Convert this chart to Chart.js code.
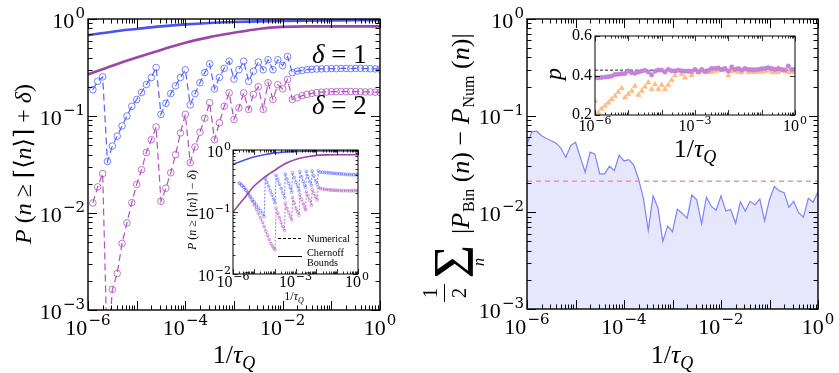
<!DOCTYPE html>
<html><head><meta charset="utf-8">
<script src="https://cdn.jsdelivr.net/npm/chart.js@4.4.1/dist/chart.umd.min.js"></script>
<style>
html,body{margin:0;padding:0;background:#fff;}
#wrap{position:relative;width:839px;height:373px;overflow:hidden;}
#wrap canvas{position:absolute;left:0;top:0;}
</style></head>
<body><div id="wrap">
<canvas id="c1" width="839" height="373"></canvas>
<canvas id="c2" width="839" height="373"></canvas>
<canvas id="c3" width="839" height="373"></canvas>
<canvas id="c4" width="839" height="373"></canvas>
</div>
<script>
// ---------------- DATA ----------------
const X_GRID = [
 1e-6,1.26e-6,1.58e-6,2e-6,2.51e-6,3.16e-6,3.98e-6,5.01e-6,6.31e-6,7.94e-6,
 1e-5,1.26e-5,1.58e-5,2e-5,2.51e-5,3.16e-5,3.98e-5,5.01e-5,6.31e-5,7.94e-5,
 1e-4,1.26e-4,1.58e-4,2e-4,2.51e-4,3.16e-4,3.98e-4,5.01e-4,6.31e-4,7.94e-4,
 1e-3,1.26e-3,1.58e-3,2e-3,2.51e-3,3.16e-3,3.98e-3,5.01e-3,6.31e-3,7.94e-3,
 1e-2,1.26e-2,1.58e-2,2e-2,2.51e-2,3.16e-2,3.98e-2,5.01e-2,6.31e-2,7.94e-2,
 0.1,0.126,0.158,0.2,0.251,0.316,0.398,0.501,0.631,0.794,
 1];

// left panel: numerical P(n >= ceil(<n>) + delta)
const NUM_DELTA1 = [
 null,0.187,0.228,0.253,0.034,0.049,0.062,0.079,0.100,0.126,
 0.148,0.175,0.211,0.249,0.316,0.104,0.135,0.17,0.205,0.25,
 0.30,0.13,0.17,0.22,0.28,0.345,0.19,0.25,0.31,0.367,
 0.24,0.30,0.367,0.228,0.29,0.36,0.30,0.38,0.30,0.38,
 0.33,0.41,0.28,0.29,0.295,0.30,0.303,0.305,0.306,0.307,
 0.308,0.308,0.309,0.309,0.308,0.309,0.31,0.308,0.307,0.306,
 0.304];
const NUM_DELTA2 = [
 null,0.0127,0.0186,0.0255,0.0003,0.00163,0.00238,0.00485,0.0079,0.0128,
 0.0197,0.028,0.042,0.057,0.077,0.0132,0.018,0.026,0.040,0.067,
 0.104,0.033,0.048,0.068,0.095,0.137,0.057,0.085,0.126,0.173,
 0.092,0.121,0.173,0.117,0.167,0.20,0.117,0.22,0.148,0.21,
 0.19,0.238,0.148,0.154,0.162,0.167,0.171,0.174,0.176,0.177,
 0.178,0.178,0.179,0.178,0.179,0.178,0.178,0.177,0.177,0.176,
 0.175];

// Chernoff bounds (solid curves)
const CURVE_X = [1e-6,3.16e-6,1e-5,3.16e-5,1e-4,3.16e-4,1e-3,3.16e-3,1e-2,3.16e-2,0.1,0.316,1];
const CHERNOFF_D1 = [0.68,0.74,0.79,0.84,0.88,0.91,0.93,0.945,0.957,0.963,0.967,0.97,0.97];
const CHERNOFF_D2 = [0.268,0.33,0.40,0.48,0.57,0.65,0.72,0.79,0.83,0.84,0.84,0.84,0.84];
const INSET_CHERNOFF_D1 = [0.59,0.68,0.77,0.84,0.90,0.93,0.95,0.96,0.965,0.965,0.965,0.965,0.965];
const INSET_CHERNOFF_D2 = [0.10,0.16,0.26,0.36,0.47,0.60,0.70,0.77,0.82,0.835,0.84,0.84,0.84];

// left inset: numerical P(n >= ceil(<n>) - delta), x given as log10(1/tau_Q)
const INSET_LOGX_D1 = [-5.68,-5.58,-5.48,-5.38,-5.28,-5.18,-5.08,-4.98,-4.88,-4.78,-4.68,-4.58,-4.5,
 -4.45,-4.37,-4.29,-4.21,-4.13,-4.05,-3.98,
 -3.93,-3.85,-3.77,-3.69,-3.61,-3.53,
 -3.49,-3.41,-3.33,-3.25,-3.18,
 -3.14,-3.06,-2.98,-2.9,-2.83,
 -2.79,-2.71,-2.63,-2.56,-2.51,
 -2.48,-2.4,-2.32,-2.24,
 -2.2,-2.12,-2.04,-1.96,
 -1.9,-1.8,-1.7,-1.6,-1.5,-1.4,-1.3,-1.2,-1.1,-1.0,-0.9,-0.8,-0.7,-0.6,-0.5,-0.4,-0.3,-0.2,-0.1,0];
const INSET_NUM_D1 = [0.29,0.27,0.25,0.225,0.20,0.18,0.16,0.145,0.13,0.115,0.105,0.094,0.084,
 0.35,0.30,0.26,0.22,0.19,0.16,0.14,
 0.39,0.33,0.28,0.24,0.20,0.17,
 0.41,0.34,0.29,0.245,0.21,
 0.43,0.36,0.30,0.26,0.22,
 0.45,0.37,0.31,0.27,0.25,
 0.45,0.37,0.31,0.27,
 0.46,0.38,0.32,0.28,
 0.46,0.44,0.44,0.435,0.43,0.43,0.425,0.42,0.42,0.415,0.415,0.41,0.41,0.405,0.405,0.40,0.40,0.40,0.40,0.40];
const INSET_LOGX_D2 = [-5.68,-5.58,-5.48,-5.38,-5.28,-5.18,-5.08,-4.98,-4.88,-4.78,-4.68,-4.58,-4.5,-4.42,-4.34,-4.26,-4.18,-4.1,-4.04,-3.98,
 -3.93,-3.85,-3.77,-3.69,-3.61,-3.53,
 -3.49,-3.41,-3.33,-3.25,-3.18,
 -3.14,-3.06,-2.98,-2.9,-2.83,
 -2.79,-2.71,-2.63,-2.56,-2.51,
 -2.48,-2.4,-2.32,-2.24,
 -2.2,-2.12,-2.04,-1.96,
 -1.9,-1.8,-1.7,-1.6,-1.5,-1.4,-1.3,-1.2,-1.1,-1.0,-0.9,-0.8,-0.7,-0.6,-0.5,-0.4,-0.3,-0.2,-0.1,0];
const INSET_NUM_D2 = [0.29,0.27,0.25,0.225,0.20,0.175,0.15,0.13,0.11,0.095,0.08,0.068,0.058,0.049,0.042,0.036,0.031,0.028,0.026,0.0245,
 0.115,0.095,0.08,0.068,0.058,0.051,
 0.138,0.115,0.098,0.085,0.075,
 0.17,0.14,0.115,0.10,0.089,
 0.19,0.16,0.135,0.118,0.108,
 0.21,0.18,0.155,0.13,
 0.23,0.20,0.175,0.156,
 0.25,0.24,0.235,0.232,0.23,0.228,0.226,0.225,0.224,0.223,0.222,0.222,0.221,0.221,0.22,0.22,0.22,0.22,0.22,0.22];

// right panel: total variation distance
const TVD = [
 0.051,0.068,0.069,0.062,0.058,0.055,0.052,0.046,0.037,0.049,
 0.053,0.037,0.026,0.042,0.040,0.025,0.025,0.030,0.027,0.039,
 0.034,0.035,0.031,0.022,0.014,0.0065,0.0148,0.0111,0.0050,0.0072,
 0.0063,0.0108,0.0098,0.0087,0.0151,0.0135,0.0076,0.0144,0.0115,0.0105,
 0.0148,0.0103,0.0107,0.0077,0.0129,0.0103,0.013,0.012,0.0137,0.0082,
 0.0136,0.0185,0.0167,0.016,0.0113,0.013,0.0099,0.0089,0.0140,0.0127,
 0.0164];
const TVD_REF_LEVEL = 0.021;

// right inset: fitted p
const P_CIRCLES = [
 0.39,0.388,0.39,0.392,0.394,0.397,0.405,0.406,0.409,0.41,
 0.423,0.414,0.411,0.418,0.422,0.426,0.418,0.403,0.422,0.428,
 0.427,0.418,0.431,0.424,0.423,0.426,0.424,0.422,0.421,0.419,
 0.431,0.418,0.431,0.421,0.426,0.436,0.436,0.438,0.431,0.436,
 0.423,0.443,0.431,0.436,0.428,0.436,0.431,0.43,0.43,0.431,
 0.434,0.436,0.44,0.436,0.431,0.436,0.431,0.428,0.448,0.431,
 0.431];
const P_TRIANGLES = [
 0.271,0.212,0.232,0.246,0.262,0.279,0.296,0.316,0.335,0.288,
 0.305,0.321,0.347,0.301,0.321,0.343,0.364,0.33,0.355,0.33,
 0.352,0.33,0.352,0.376,0.40,0.426,0.406,0.389,0.423,0.40,
 0.426,0.418,0.421,0.418,0.418,0.418,0.421,0.426,0.428,0.426,
 0.40,0.421,0.423,0.418,0.416,0.428,0.416,0.418,0.418,0.421,
 0.418,0.423,0.426,0.418,0.416,0.418,0.426,0.421,0.416,0.418,
 0.418];
const P_REF_LEVEL = 0.427;

const X_RANGE = [1e-6, 1];

// ---------------- HELPERS ----------------
const SERIF = '"Liberation Serif","DejaVu Serif",serif';
const EXPF = '"DejaVu Serif","Liberation Serif",serif';
function fnt(size, it, fam) { return (it ? 'italic ' : '') + size + 'px ' + (fam || SERIF); }
const pts = (xs, ys) => xs.map((x, i) => ({x: x, y: ys[i]}));
const ptsLog = (ls, ys) => ls.map((l, i) => ({x: Math.pow(10, l), y: ys[i]}));

function drawPow(ctx, x, y, exp, bs, es, align, rise) {
  ctx.textBaseline = 'middle'; ctx.textAlign = 'left';
  ctx.font = fnt(bs); const w1 = ctx.measureText('10').width;
  const e = exp < 0 ? '\u2212' + (-exp) : String(exp);
  ctx.font = fnt(es, false, EXPF); const w2 = ctx.measureText(e).width;
  const gap = es * 0.08, tot = w1 + gap + w2;
  const x0 = align === 'center' ? x - tot / 2 : (align === 'right' ? x - tot : x);
  ctx.font = fnt(bs); ctx.fillText('10', x0, y);
  ctx.font = fnt(es, false, EXPF); ctx.fillText(e, x0 + w1 + gap, y - rise);
}
function drawRich(ctx, segs, x, y, align) {
  ctx.textBaseline = 'alphabetic'; ctx.textAlign = 'left';
  let tot = 0;
  segs.forEach(s => { ctx.font = fnt(s.s, s.i, s.f); s.w = ctx.measureText(s.t).width; tot += s.w + (s.dx || 0); });
  let cx = align === 'center' ? x - tot / 2 : x;
  segs.forEach(s => { ctx.font = fnt(s.s, s.i, s.f); cx += (s.dx || 0); ctx.fillText(s.t, cx, y + (s.dy || 0)); cx += s.w; });
  return tot;
}
function seg(t, s, i, dy, dx, f) { return {t: t, s: s, i: i, dy: dy, dx: dx, f: f}; }
function fitText(ctx, t, x, y, width, size) {
  ctx.font = fnt(size); const w = ctx.measureText(t).width;
  const s = Math.min(size, size * width / w);
  ctx.font = fnt(s); ctx.fillText(t, x, y);
}

function makeFrame(cfg) {
  return {
    id: 'frame',
    beforeDatasetsDraw(chart) {
      if (!cfg.white) return;
      const a = chart.chartArea, ctx = chart.ctx;
      ctx.save(); ctx.fillStyle = '#fff';
      ctx.fillRect(a.left, a.top, a.right - a.left, a.bottom - a.top); ctx.restore();
    },
    afterDraw(chart) {
      const ctx = chart.ctx, a = chart.chartArea, xs = chart.scales.x, ys = chart.scales.y;
      ctx.save();
      ctx.strokeStyle = '#000'; ctx.fillStyle = '#000'; ctx.lineWidth = cfg.tickW;
      const ln = (x1, y1, x2, y2) => { ctx.beginPath(); ctx.moveTo(x1, y1); ctx.lineTo(x2, y2); ctx.stroke(); };
      for (let e = cfg.xE[0]; e <= cfg.xE[1]; e++) {
        for (let m = 1; m <= 9; m++) {
          if (e === cfg.xE[1] && m > 1) break;
          const p = Math.round(xs.getPixelForValue(m * Math.pow(10, e))) + 0.5;
          const L = m === 1 ? cfg.maj : cfg.min;
          ln(p, a.bottom, p, a.bottom - L); ln(p, a.top, p, a.top + L);
        }
      }
      if (cfg.yE) {
        for (let e = cfg.yE[0]; e <= cfg.yE[1]; e++) {
          for (let m = 1; m <= 9; m++) {
            if (e === cfg.yE[1] && m > 1) break;
            const p = Math.round(ys.getPixelForValue(m * Math.pow(10, e))) + 0.5;
            const L = m === 1 ? cfg.maj : cfg.min;
            ln(a.left, p, a.left + L, p); ln(a.right, p, a.right - L, p);
          }
        }
      } else {
        cfg.yLin.forEach(v => {
          const p = Math.round(ys.getPixelForValue(v)) + 0.5;
          ln(a.left, p, a.left + cfg.maj, p); ln(a.right, p, a.right - cfg.maj, p);
        });
      }
      ctx.lineWidth = cfg.borderW;
      ctx.strokeRect(a.left, a.top, a.right - a.left, a.bottom - a.top);
      const L = cfg.lab;
      cfg.xLab.forEach(e => drawPow(ctx, xs.getPixelForValue(Math.pow(10, e)) + (L.xdx ? L.xdx(e) : 0), a.bottom + L.xdy, e, L.bs, L.es, 'center', L.rise));
      if (cfg.yLab) cfg.yLab.forEach(e => drawPow(ctx, a.left - L.ygap, ys.getPixelForValue(Math.pow(10, e)) + L.ydy, e, L.bs, L.es, 'right', L.rise));
      if (cfg.yLinLab) {
        ctx.font = fnt(L.bs); ctx.textAlign = 'right'; ctx.textBaseline = 'middle';
        cfg.yLinLab.forEach((t, i) => ctx.fillText(t, a.left - L.ygap, ys.getPixelForValue(cfg.yLin[i]) + L.ydy));
      }
      if (cfg.extra) cfg.extra(ctx, chart);
      ctx.restore();
    }
  };
}
function baseOpts(area, ymin, ymax, ylog) {
  return {
    responsive: false, animation: false, events: [],
    layout: {padding: {left: area[0], top: area[1], right: 839 - area[2], bottom: 373 - area[3]}},
    scales: {
      x: {type: 'logarithmic', min: X_RANGE[0], max: X_RANGE[1], display: false},
      y: {type: ylog ? 'logarithmic' : 'linear', min: ymin, max: ymax, display: false}
    },
    plugins: {legend: {display: false}, tooltip: {enabled: false}}
  };
}
const BLUE = '#4b52ee', PURPLE = '#9c47a8', BLUE_D = '#5363ff', PURPLE_D = '#b052c0';
const xLabelSegs = (s) => [seg('1/', s), seg('\u03c4', s, true), seg('Q', Math.round(s * 0.68), true, Math.round(s * 0.24))];

// ---------------- LEFT MAIN ----------------
new Chart(document.getElementById('c1'), {
  type: 'line',
  data: {datasets: [
    {data: pts(CURVE_X, CHERNOFF_D1), borderColor: BLUE, borderWidth: 2.6, pointRadius: 0, cubicInterpolationMode: 'monotone', order: 1},
    {data: pts(CURVE_X, CHERNOFF_D2), borderColor: PURPLE, borderWidth: 2.6, pointRadius: 0, cubicInterpolationMode: 'monotone', order: 2},
    {data: pts(X_GRID, NUM_DELTA1), borderColor: BLUE_D, borderWidth: 1.2, borderDash: [7, 4], pointRadius: 3.3,
     pointBorderWidth: 0.8, pointBorderColor: BLUE_D, pointBackgroundColor: 'rgba(0,0,0,0)', order: 3},
    {data: pts(X_GRID, NUM_DELTA2), borderColor: PURPLE_D, borderWidth: 1.2, borderDash: [7, 4], pointRadius: 3.3,
     pointBorderWidth: 0.8, pointBorderColor: PURPLE_D, pointBackgroundColor: 'rgba(0,0,0,0)', order: 4}
  ]},
  options: baseOpts([88, 19, 380, 310], 1e-3, 1, true),
  plugins: [makeFrame({
    xE: [-6, 0], yE: [-3, 0], maj: 9, min: 4.5, tickW: 1, borderW: 1.4,
    xLab: [-6, -4, -2, 0], yLab: [-3, -2, -1, 0],
    lab: {bs: 22, es: 15, rise: 8, xdy: 19, ygap: 3, ydy: 3},
    extra(ctx) {
      ctx.fillStyle = '#000';
      drawRich(ctx, xLabelSegs(26), 234, 363, 'center');
      ctx.save(); ctx.translate(31, 164); ctx.rotate(-Math.PI / 2);
      drawRich(ctx, [seg('P', 24, true), seg(' (', 24), seg('n', 24, true), seg(' \u2265 \u2308\u27e8', 24),
        seg('n', 24, true), seg('\u27e9\u2309 + ', 24), seg('\u03b4', 24, true), seg(')', 24)], 0, 0, 'center');
      ctx.restore();
      drawRich(ctx, [seg('\u03b4', 27, true), seg(' = 1', 27)], 312, 63, 'left');
      drawRich(ctx, [seg('\u03b4', 27, true), seg(' = 2', 27)], 312, 114, 'left');
    }
  })]
});

// ---------------- LEFT INSET ----------------
new Chart(document.getElementById('c2'), {
  type: 'line',
  data: {datasets: [
    {data: pts(CURVE_X, INSET_CHERNOFF_D1), borderColor: BLUE, borderWidth: 1.6, pointRadius: 0, cubicInterpolationMode: 'monotone', order: 1},
    {data: pts(CURVE_X, INSET_CHERNOFF_D2), borderColor: PURPLE, borderWidth: 1.6, pointRadius: 0, cubicInterpolationMode: 'monotone', order: 2},
    {data: ptsLog(INSET_LOGX_D1, INSET_NUM_D1), borderColor: '#6574ff', borderWidth: 0.9, borderDash: [2, 1.5], pointRadius: 1.4,
     pointBorderWidth: 0.6, pointBorderColor: '#6574ff', pointBackgroundColor: 'rgba(0,0,0,0)', order: 3},
    {data: ptsLog(INSET_LOGX_D2, INSET_NUM_D2), borderColor: '#b565c2', borderWidth: 0.9, borderDash: [2, 1.5], pointRadius: 1.4,
     pointBorderWidth: 0.6, pointBorderColor: '#b565c2', pointBackgroundColor: 'rgba(0,0,0,0)', order: 4}
  ]},
  options: baseOpts([233, 150, 358, 274], 1e-2, 1, true),
  plugins: [makeFrame({
    white: true, xE: [-6, 0], yE: [-2, 0], maj: 5, min: 2.5, tickW: 0.8, borderW: 1,
    xLab: [-6, -3, 0], yLab: [-2, -1, 0],
    lab: {bs: 16, es: 11, rise: 6, xdy: 9, ygap: 2, ydy: 3, xdx: e => (e === 0 ? -1 : 0)},
    extra(ctx) {
      ctx.fillStyle = '#000';
      drawRich(ctx, xLabelSegs(12), 294, 300, 'center');
      ctx.save(); ctx.translate(196, 210); ctx.rotate(-Math.PI / 2);
      drawRich(ctx, [seg('P', 12, true), seg(' (', 12), seg('n', 12, true), seg(' \u2265 \u2308\u27e8', 12),
        seg('n', 12, true), seg('\u27e9\u2309 \u2212 ', 12), seg('\u03b4', 12, true), seg(')', 12)], 0, 0, 'center');
      ctx.restore();
      ctx.strokeStyle = '#000'; ctx.lineWidth = 1;
      ctx.setLineDash([3, 2]); ctx.beginPath(); ctx.moveTo(278, 238.5); ctx.lineTo(302, 238.5); ctx.stroke();
      ctx.setLineDash([]); ctx.beginPath(); ctx.moveTo(278, 256.5); ctx.lineTo(302, 256.5); ctx.stroke();
      ctx.textAlign = 'left'; ctx.textBaseline = 'alphabetic';
      fitText(ctx, 'Numerical', 307, 242, 43, 12);
      fitText(ctx, 'Chernoff', 307, 256, 37, 12);
      fitText(ctx, 'Bounds', 307, 266, 31, 12);
    }
  })]
});

// ---------------- RIGHT MAIN ----------------
new Chart(document.getElementById('c3'), {
  type: 'line',
  data: {datasets: [
    {data: pts(X_GRID, TVD), borderColor: '#7f82fb', borderWidth: 1.2, pointRadius: 0, fill: 'start',
     backgroundColor: 'rgba(122,122,245,0.19)', order: 2},
    {data: pts(X_RANGE, [TVD_REF_LEVEL, TVD_REF_LEVEL]), borderColor: '#f29696', borderWidth: 1.5, borderDash: [5, 4], pointRadius: 0, order: 1}
  ]},
  options: baseOpts([527, 19, 818, 309], 1e-3, 1, true),
  plugins: [makeFrame({
    xE: [-6, 0], yE: [-3, 0], maj: 9, min: 4.5, tickW: 1, borderW: 1.4,
    xLab: [-6, -4, -2, 0], yLab: [-3, -2, -1, 0],
    lab: {bs: 22, es: 15, rise: 8, xdy: 19, ygap: 3, ydy: 3},
    extra(ctx) {
      ctx.fillStyle = '#000';
      drawRich(ctx, xLabelSegs(26), 672, 363, 'center');
      ctx.save(); ctx.translate(469, 309); ctx.rotate(-Math.PI / 2);
      ctx.textAlign = 'center'; ctx.textBaseline = 'alphabetic';
      ctx.font = fnt(21); ctx.fillText('1', 16, -32); ctx.fillText('2', 16, -3);
      ctx.lineWidth = 1; ctx.strokeStyle = '#000';
      ctx.beginPath(); ctx.moveTo(7, -24.5); ctx.lineTo(25, -24.5); ctx.stroke();
      ctx.font = fnt(58); ctx.fillText('\u03a3', 47.5, 4);
      ctx.font = fnt(16, true); ctx.fillText('n', 47, 15);
      drawRich(ctx, [seg('|', 26), seg('P', 26, true), seg('Bin', 16, false, 5, 1), seg(' (', 26), seg('n', 26, true), seg(') \u2212 ', 26),
        seg('P', 26, true), seg('Num', 16, false, 5, 1), seg(' (', 26), seg('n', 26, true), seg(')|', 26)], 75, 0, 'left');
      ctx.restore();
    }
  })]
});

// ---------------- RIGHT INSET ----------------
new Chart(document.getElementById('c4'), {
  type: 'line',
  data: {datasets: [
    {data: pts(X_RANGE, [P_REF_LEVEL, P_REF_LEVEL]), borderColor: '#222', borderWidth: 1, borderDash: [3, 2], pointRadius: 0, order: 3},
    {data: pts(X_GRID, P_TRIANGLES), showLine: false, pointStyle: 'triangle', pointRadius: 3, pointBorderWidth: 0.5,
     pointBackgroundColor: '#ffbd85', pointBorderColor: '#ffb070', order: 2},
    {data: pts(X_GRID, P_CIRCLES), showLine: false, pointStyle: 'circle', pointRadius: 2.2, pointBorderWidth: 0.5,
     pointBackgroundColor: '#c985dc', pointBorderColor: '#bb72d0', order: 1}
  ]},
  options: baseOpts([595, 36, 795, 115], 0.2, 0.6, false),
  plugins: [makeFrame({
    white: true, xE: [-6, 0], yLin: [0.2, 0.4, 0.6], maj: 5, min: 2.5, tickW: 0.8, borderW: 1,
    xLab: [-6, -3, 0], yLinLab: ['0.2', '0.4', '0.6'],
    lab: {bs: 16, es: 11, rise: 6, xdy: 12, ygap: 3, ydy: 0},
    extra(ctx) {
      ctx.fillStyle = '#000';
      drawRich(ctx, xLabelSegs(26), 695, 157, 'center');
      ctx.save(); ctx.translate(561, 74); ctx.rotate(-Math.PI / 2);
      drawRich(ctx, [seg('p', 24, true)], 0, 0, 'center');
      ctx.restore();
    }
  })]
});
</script>
</body></html>
